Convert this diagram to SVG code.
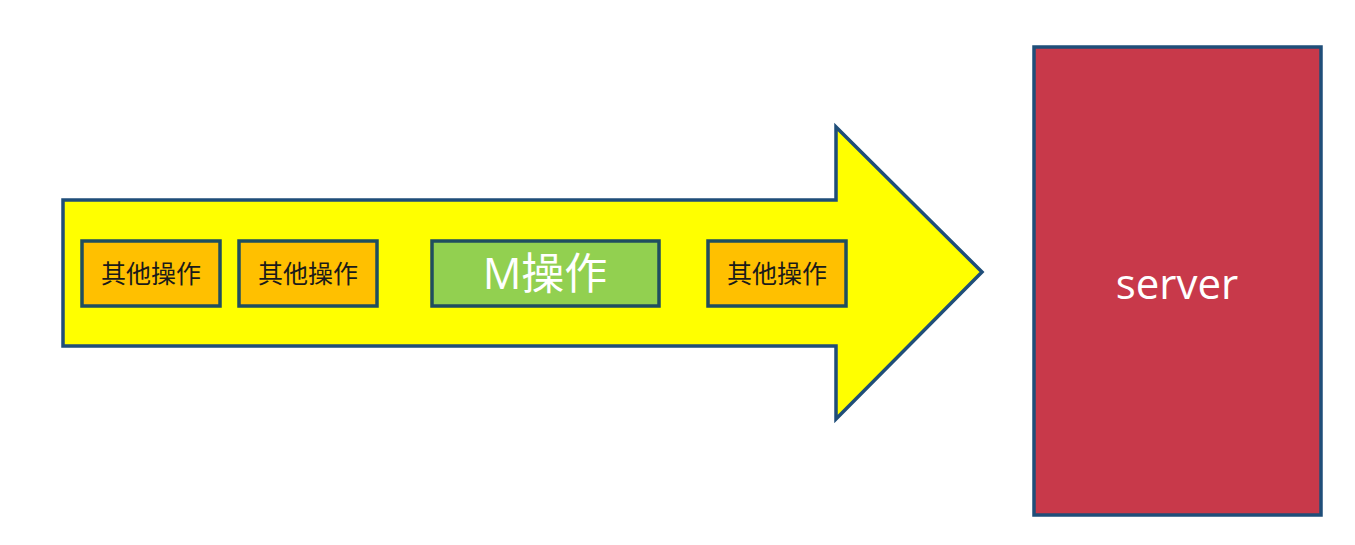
<svg xmlns="http://www.w3.org/2000/svg" width="1355" height="545" viewBox="0 0 1355 545">
<style>
.op{fill:#ffc000;stroke:#1f4e5f;stroke-width:3.5}
.opt{font-family:"Noto Sans CJK SC","Liberation Sans",sans-serif;font-size:25px;fill:#1a1a1a;text-anchor:middle;dominant-baseline:central}
.mt{font-family:"Open Sans","Noto Sans CJK SC",sans-serif;font-size:43px;fill:#ffffff;text-anchor:middle;dominant-baseline:central}
</style>
<rect width="1355" height="545" fill="#ffffff"/>
<g id="connectors">
<path id="flow-arrow" d="M63,200 L836,200 L836,127 L982,272 L836,419 L836,346 L63,346 Z" fill="#ffff00" stroke="#1f4e79" stroke-width="3.5" stroke-linejoin="miter"/>
</g>
<g id="op1"><rect class="op" x="82" y="241" width="138" height="65"/><text class="opt" x="151" y="272">其他操作</text></g>
<g id="op2"><rect class="op" x="239" y="241" width="138" height="65"/><text class="opt" x="308" y="272">其他操作</text></g>
<g id="m-op"><rect x="432" y="241" width="227" height="65" fill="#92d050" stroke="#1f4e5f" stroke-width="3.5"/><text class="mt" x="545" y="272">M操作</text></g>
<g id="op3"><rect class="op" x="708" y="241" width="138" height="65"/><text class="opt" x="777" y="272">其他操作</text></g>
<g id="server"><rect x="1034" y="47" width="287" height="468" fill="#c8394a" stroke="#1f4e79" stroke-width="3.5"/><text x="1177" y="282" font-family="Open Sans, Lato, sans-serif" font-size="42" fill="#ffffff" text-anchor="middle" dominant-baseline="central">server</text></g>
</svg>
